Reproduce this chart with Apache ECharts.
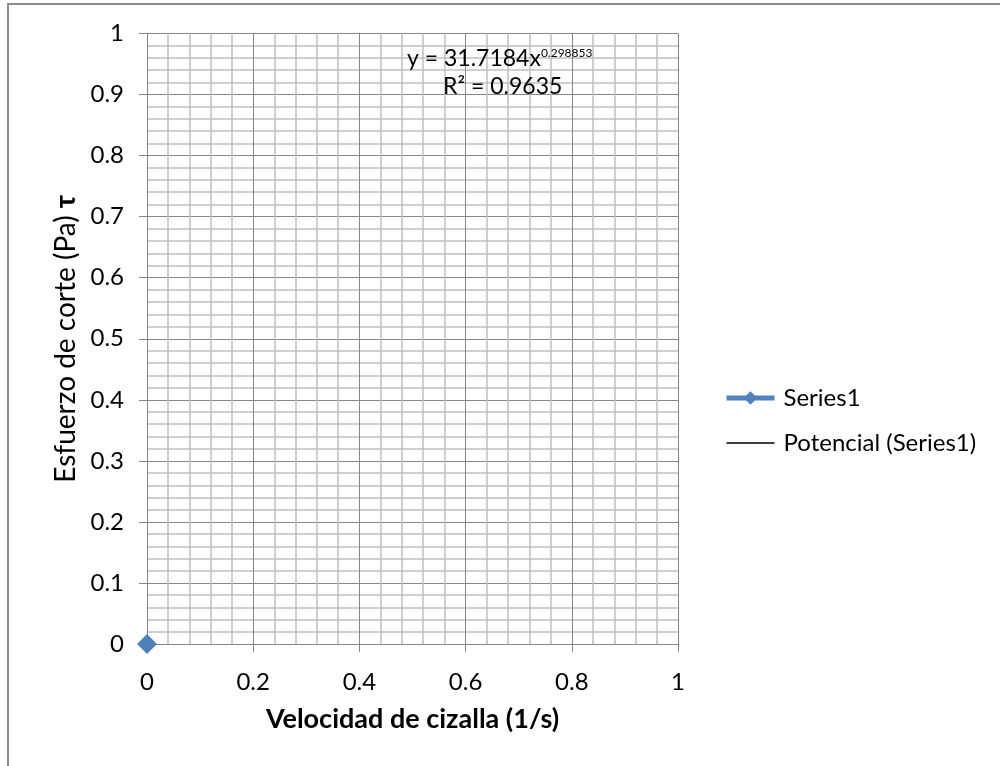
<!DOCTYPE html>
<html>
<head>
<meta charset="utf-8">
<script src="https://cdn.jsdelivr.net/npm/echarts@6/dist/echarts.min.js"></script>
<style>
html,body{margin:0;padding:0;background:#fff;}
#chart{width:1000px;height:766px;}
</style>
</head>
<body>
<div id="chart"></div>
<script>
// Data
const seriesName = 'Series1';
const trendName = 'Potencial (Series1)';
const xValues = [0];
const yValues = [0];
const trendX = [];
const trendY = [];
const equationText = 'y = 31.7184x';
const equationExp = '0.298853';
const r2Text = 'R² = 0.9635';
const xTitle = 'Velocidad de cizalla (1/s)';
const yTitle = 'Esfuerzo de corte (Pa) ';
const yTitleSym = 'τ';

const FONT = 'Lato, "Open Sans", sans-serif';
const chart = echarts.init(document.getElementById('chart'), null, {renderer: 'canvas'});

const pts = xValues.map((x, i) => [x, yValues[i]]);
const trendPts = trendX.map((x, i) => [x, trendY[i]]);

chart.setOption({
  backgroundColor: '#ffffff',
  animation: false,
  grid: {left: 147, right: 322, top: 33.5, bottom: 122, containLabel: false},
  xAxis: {
    type: 'value', min: 0, max: 1, interval: 0.2,
    axisLine: {show: true, onZero: false, lineStyle: {color: '#868686', width: 1}},
    axisTick: {show: true, inside: false, length: 8, lineStyle: {color: '#868686'}},
    axisLabel: {margin: 26, fontFamily: FONT, fontSize: 24, color: '#000',
      formatter: v => String(+v.toFixed(2))},
    splitLine: {show: true, lineStyle: {color: '#868686', width: 1}},
    minorTick: {show: false, splitNumber: 5},
    minorSplitLine: {show: true, lineStyle: {color: '#c0c0c0', width: 1.5}},
    name: xTitle, nameLocation: 'middle', nameGap: 62,
    nameTextStyle: {fontFamily: FONT, fontSize: 27, fontWeight: 'bold', color: '#000'}
  },
  yAxis: {
    type: 'value', min: 0, max: 1, interval: 0.1,
    axisLine: {show: true, onZero: false, lineStyle: {color: '#868686', width: 1}},
    axisTick: {show: true, inside: false, length: 8, lineStyle: {color: '#868686'}},
    axisLabel: {margin: 23, fontFamily: FONT, fontSize: 24, color: '#000',
      formatter: v => String(+v.toFixed(2))},
    splitLine: {show: true, lineStyle: {color: '#868686', width: 1}},
    minorTick: {show: false, splitNumber: 5},
    minorSplitLine: {show: true, lineStyle: {color: '#c0c0c0', width: 1.5}},
    name: '{n|' + yTitle + '}{b|' + yTitleSym + '}', nameLocation: 'middle', nameGap: 67, nameRotate: 90,
    nameTextStyle: {fontFamily: FONT, fontSize: 28, color: '#000',
      rich: {n: {fontFamily: FONT, fontSize: 28, color: '#000'},
             b: {fontFamily: FONT, fontSize: 28, fontWeight: 'bold', color: '#000'}}}
  },
  legend: {
    orient: 'vertical', left: 724, top: 386, itemGap: 21, padding: 0,
    itemWidth: 48, itemHeight: 17,
    textStyle: {fontFamily: FONT, fontSize: 24, color: '#000', padding: [0, 0, 0, 4]},
    data: [
      {name: seriesName, lineStyle: {width: 5, color: '#4F81BD'}},
      {name: trendName, icon: 'path://M0,0H100V3H0Z', symbolKeepAspect: true, itemStyle: {color: '#000'}}
    ]
  },
  series: [
    {
      name: seriesName, type: 'line', data: pts, clip: false,
      symbol: 'diamond', symbolSize: 20, showSymbol: true,
      itemStyle: {color: '#4F81BD'},
      lineStyle: {color: '#4F81BD', width: 5},
      z: 10
    },
    {
      name: trendName, type: 'line', data: trendPts, showSymbol: false, symbol: 'none',
      itemStyle: {color: '#000'},
      lineStyle: {color: '#000', width: 1}
    }
  ],
  graphic: [
    {type: 'rect', silent: true, z: -1,
      shape: {x: 8, y: 4, width: 1100, height: 900},
      style: {fill: null, stroke: '#8c8c8c', lineWidth: 2}},
    {type: 'text', left: 407, top: 47, z: 20,
      style: {text: '{m|' + equationText + '}{s|' + equationExp + '}',
        rich: {m: {fontFamily: FONT, fontSize: 23, fill: '#000'},
               s: {fontFamily: FONT, fontSize: 12, fill: '#000', verticalAlign: 'top', padding: [0, 0, 12, 0]}}}},
    {type: 'text', left: 443, top: 75, z: 20,
      style: {text: r2Text, fontFamily: FONT, fontSize: 23, fill: '#000'}}
  ]
});
</script>
</body>
</html>
